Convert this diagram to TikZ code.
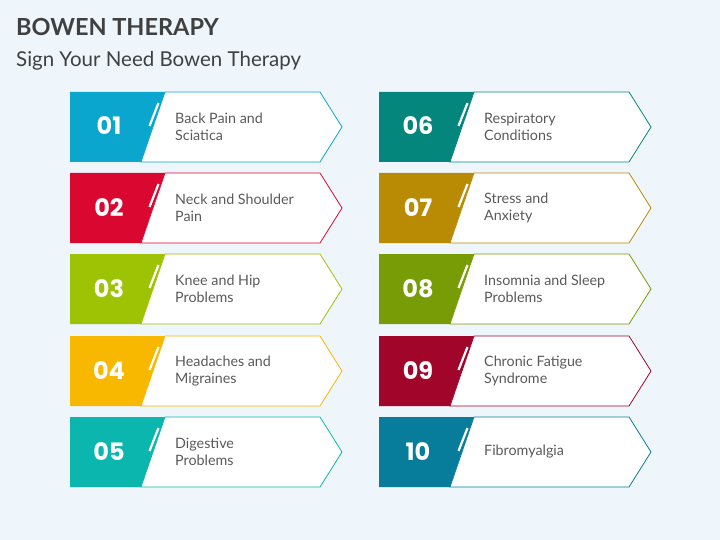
\documentclass[tikz,border=0pt]{standalone}
\usepackage{fontspec}
\setmainfont{Lato}
\newfontfamily\numfont{Poppins}
\usetikzlibrary{positioning}

\definecolor{bgblue}{HTML}{EEF6FC}
\definecolor{txtgray}{HTML}{5A5A5A}
\definecolor{titlegray}{HTML}{404040}
\definecolor{c01}{HTML}{0AA6CE}
\definecolor{c02}{HTML}{DA0830}
\definecolor{c03}{HTML}{9DC304}
\definecolor{c04}{HTML}{F8B800}
\definecolor{c05}{HTML}{0BB6AE}
\definecolor{c06}{HTML}{05867C}
\definecolor{c07}{HTML}{B98B05}
\definecolor{c08}{HTML}{789C05}
\definecolor{c09}{HTML}{A2052A}
\definecolor{c10}{HTML}{087D9B}

\tikzset{
  numtxt/.style={text=white,font=\numfont\bfseries\fontsize{24}{24}\selectfont,inner sep=0pt,anchor=base},
  itemtxt/.style={text=txtgray,font=\fontsize{14.3}{17}\selectfont,align=left,anchor=west,inner sep=0pt},
}

\begin{document}
\begin{tikzpicture}[x=1pt,y=-1pt]
            \fill[bgblue] (0,0) rectangle (720,540);
            \useasboundingbox (0,0) rectangle (720,540);
            \node[anchor=base west,inner sep=0pt,text=titlegray,font=\bfseries\fontsize{23.5}{24}\selectfont] (title) at (16,36) {BOWEN THERAPY};
            \node[anchor=base west,inner sep=0pt,text=titlegray,font=\fontsize{20.5}{21}\selectfont] (subtitle) at (16,67) {Sign Your Need Bowen Therapy};

            \foreach \bx/\by/\col/\idx/\lbl in {
                70/92/c01/01/{Back Pain and\\Sciatica},
                70/173/c02/02/{Neck and Shoulder\\Pain},
                70/254/c03/03/{Knee and Hip\\Problems},
                70/336/c04/04/{Headaches and\\Migraines},
                70/417/c05/05/{Digestive\\Problems},
                379/92/c06/06/{Respiratory\\Conditions},
                379/173/c07/07/{Stress and\\Anxiety},
                379/254/c08/08/{Insomnia and Sleep\\Problems},
                379/336/c09/09/{Chronic Fatigue\\Syndrome},
                379/417/c10/10/{Fibromyalgia}}{
                \fill[\col] (\bx,\by) -- ++(95,0) -- ++(-24,70) -- ++(-71,0) -- cycle;
                \draw[\col,fill=white,line width=0.8pt] (\bx+95,\by) -- ++(155,0) -- ++(22,35) -- ++(-22,35) -- ++(-179,0) -- cycle;
                \draw[white,line width=2.2pt] (\bx+88.5,\by+11) -- (\bx+79.5,\by+34);
                \node[numtxt] (num\idx) at (\bx+39,\by+43) {\idx};
                \node[itemtxt] (lbl\idx) at (\bx+105,\by+35) {\lbl};
            }
        \end{tikzpicture}
\end{document}
